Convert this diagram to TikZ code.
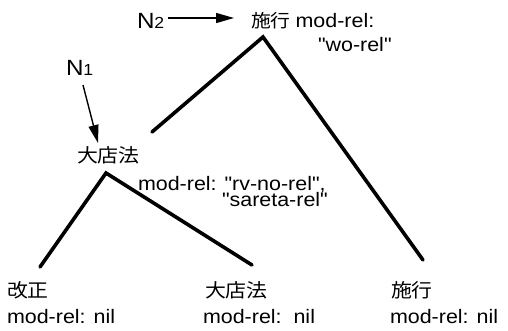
\documentclass[tikz,border=0pt]{standalone}
\usepackage{fontspec}
\setmainfont{Liberation Sans}[Ligatures=TeXOff,FakeStretch=1.1]
\newfontfamily\jp{Noto Sans CJK JP}[FakeStretch=1.1]
\usetikzlibrary{arrows.meta}
\newcommand\twoline[4]{\vtop{\baselineskip=#1\lineskiplimit=-100pt\hbox{#3}\hbox{\hspace*{#2}#4}}}
\begin{document}
\begin{tikzpicture}[x=1pt,y=-1pt,
  lbl/.style={inner sep=0pt,outer sep=0pt,anchor=base west,font=\fontsize{19.5}{22}\selectfont},
  jpl/.style={inner sep=0pt,outer sep=0pt,anchor=base west,font=\fontsize{19}{22}\selectfont\jp},
  nl/.style={inner sep=0pt,outer sep=0pt,anchor=base west,font=\fontsize{22}{26}\selectfont},
  branch/.style={line width=3.6pt,line cap=round,line join=miter},
  ptr/.style={line width=1.4pt,-{Triangle[length=18pt,width=10pt]}}]
\useasboundingbox (0,0) rectangle (508,330);
% top node
\node[lbl] (top) at (251,27) {\twoline{24pt}{67pt}{{\jp\fontsize{18}{20}\selectfont 施行}\hspace{5pt}mod-rel:}{"wo-rel"}};
% middle node
\node[jpl] (mid) at (77,162) {大店法};
\node[lbl] (midmr) at (138,190) {\twoline{16pt}{84pt}{mod-rel: "rv-no-rel",}{"sareta-rel"}};
% leaves
\node[jpl] (l1) at (7,297) {改正};
\node[lbl] (l1mr) at (7,323) {mod-rel: nil};
\node[jpl] (l2) at (205,297) {大店法};
\node[lbl] (l2mr) at (203,323) {mod-rel:\ \ nil};
\node[jpl] (l3) at (391,297) {施行};
\node[lbl] (l3mr) at (390,323) {mod-rel: nil};
% pointers
\node[nl] (n2) at (137,28) {N{\fontsize{16}{16}\selectfont 2}};
\node[nl] (n1) at (66,75) {N{\fontsize{16}{16}\selectfont 1}};
\coordinate (n2start) at (168,18);
\coordinate (n2end) at (234,18);
\coordinate (n1start) at (83,85);
\coordinate (n1end) at (98,143);
\draw[ptr] (n2start) -- (n2end);
\draw[ptr] (n1start) -- (n1end);
% tree lines
\coordinate (apexA) at (263,37);
\coordinate (apexB) at (106,173);
\coordinate (endMid) at (152,132);
\coordinate (endL3) at (423,260);
\coordinate (endL1) at (40,267);
\coordinate (endL2) at (252,265);
\draw[branch] (endMid) -- (apexA) -- (endL3);
\draw[branch] (endL1) -- (apexB) -- (endL2);
\end{tikzpicture}
\end{document}
